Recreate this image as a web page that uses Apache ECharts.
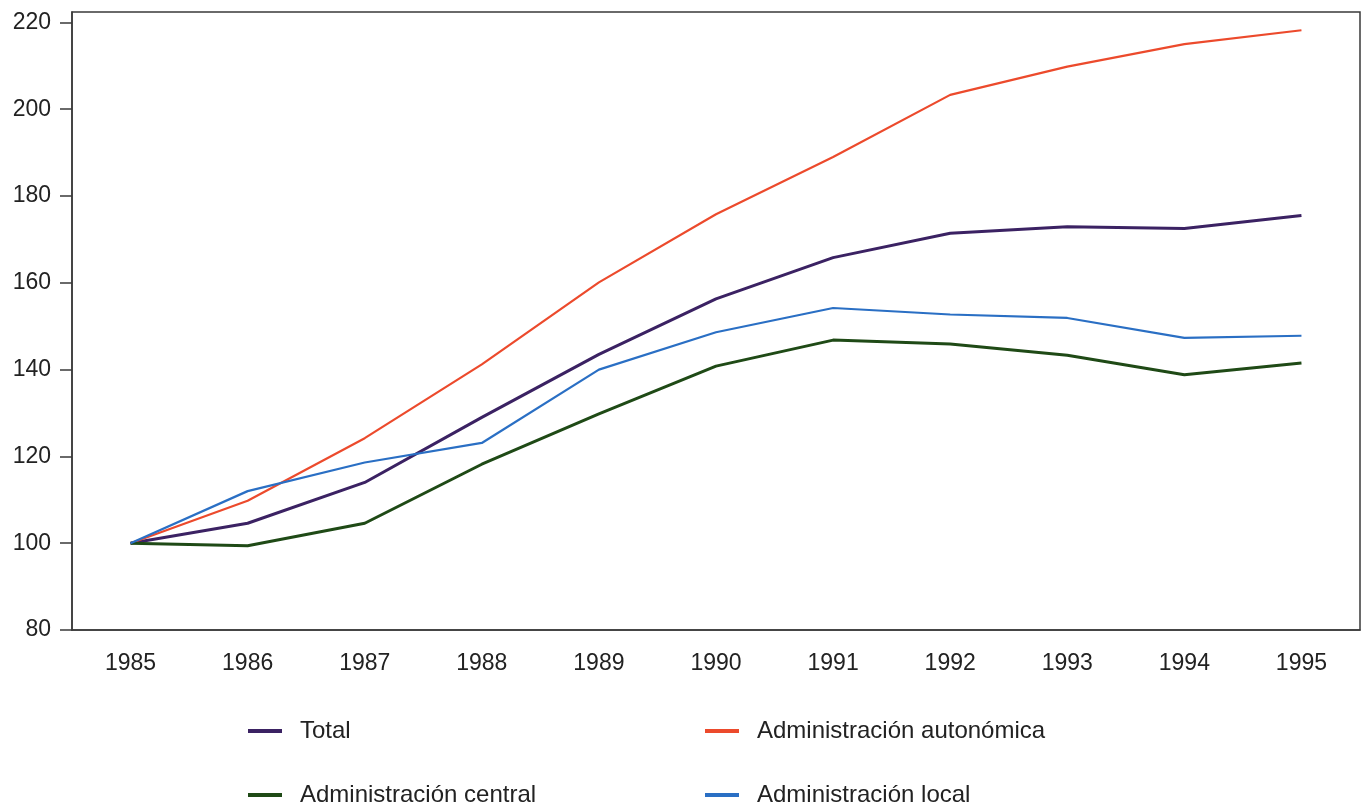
<!DOCTYPE html>
<html>
<head>
<meta charset="utf-8">
<script src="https://cdn.jsdelivr.net/npm/echarts@6/dist/echarts.min.js"></script>
<style>html,body{margin:0;padding:0;background:#fff}#c{width:1368px;height:806px}</style>
</head>
<body>
<div id="c"></div>
<script>
const years = ['1985','1986','1987','1988','1989','1990','1991','1992','1993','1994','1995'];
const yTicks = [80, 100, 120, 140, 160, 180, 200, 220];
const total = [100, 104.6, 114, 129, 143.5, 156.3, 165.8, 171.4, 172.9, 172.5, 175.5];
const autonomica = [100, 109.8, 124.2, 141.2, 160.1, 175.8, 189, 203.3, 209.8, 215, 218.2];
const central = [100, 99.4, 104.6, 118.2, 129.8, 140.8, 146.8, 145.9, 143.3, 138.8, 141.5];
const local = [100, 112, 118.6, 123.1, 140, 148.6, 154.2, 152.7, 151.9, 147.3, 147.8];
const seriesNames = ['Total', 'Administración autonómica', 'Administración central', 'Administración local'];

const FONT = '"Liberation Sans", Arial, sans-serif';
const AX = '#3a3a3a';
const colors = ['#3b2263', '#ec4a2c', '#1f4a16', '#2a6fc4'];

const chart = echarts.init(document.getElementById('c'), null, {renderer:'canvas'});
function leg(name, left, top) {
  return {
    data:[name], left:left, top:top, orient:'horizontal', icon:'rect', itemWidth:34, itemHeight:4,
    textStyle:{fontFamily:FONT, fontSize:24, color:'#222', lineHeight:24, padding:[0,0,0,13]},
    selectedMode:false
  };
}
chart.setOption({
  animation:false,
  backgroundColor:'#fff',
  grid:{left:72, right:8, top:12, bottom:176, show:true, borderColor:AX, borderWidth:1.5, backgroundColor:'transparent'},
  legend:[
    leg(seriesNames[0], 243, 714),
    leg(seriesNames[1], 700, 714),
    leg(seriesNames[2], 243, 778),
    leg(seriesNames[3], 700, 778)
  ],
  xAxis:{
    type:'category', data:years, boundaryGap:true,
    axisLine:{lineStyle:{color:AX, width:1.5}},
    axisTick:{alignWithLabel:true, length:15, lineStyle:{color:AX, width:1.5}},
    axisLabel:{fontFamily:FONT, fontSize:23, color:'#222', margin:22}
  },
  yAxis:{
    type:'value', min:80, max:222.4,
    splitLine:{show:false},
    axisLine:{show:true, lineStyle:{color:AX, width:1.5}},
    axisTick:{show:true, length:12, customValues:yTicks, lineStyle:{color:AX, width:1.5}},
    axisLabel:{fontFamily:FONT, fontSize:23, color:'#222', margin:21, customValues:yTicks}
  },
  series:[
    {name:seriesNames[0], type:'line', data:total, symbol:'none', color:colors[0], lineStyle:{width:3, color:colors[0]}},
    {name:seriesNames[1], type:'line', data:autonomica, symbol:'none', color:colors[1], lineStyle:{width:2.2, color:colors[1]}},
    {name:seriesNames[2], type:'line', data:central, symbol:'none', color:colors[2], lineStyle:{width:3, color:colors[2]}},
    {name:seriesNames[3], type:'line', data:local, symbol:'none', color:colors[3], lineStyle:{width:2.2, color:colors[3]}}
  ]
});
</script>
</body>
</html>
